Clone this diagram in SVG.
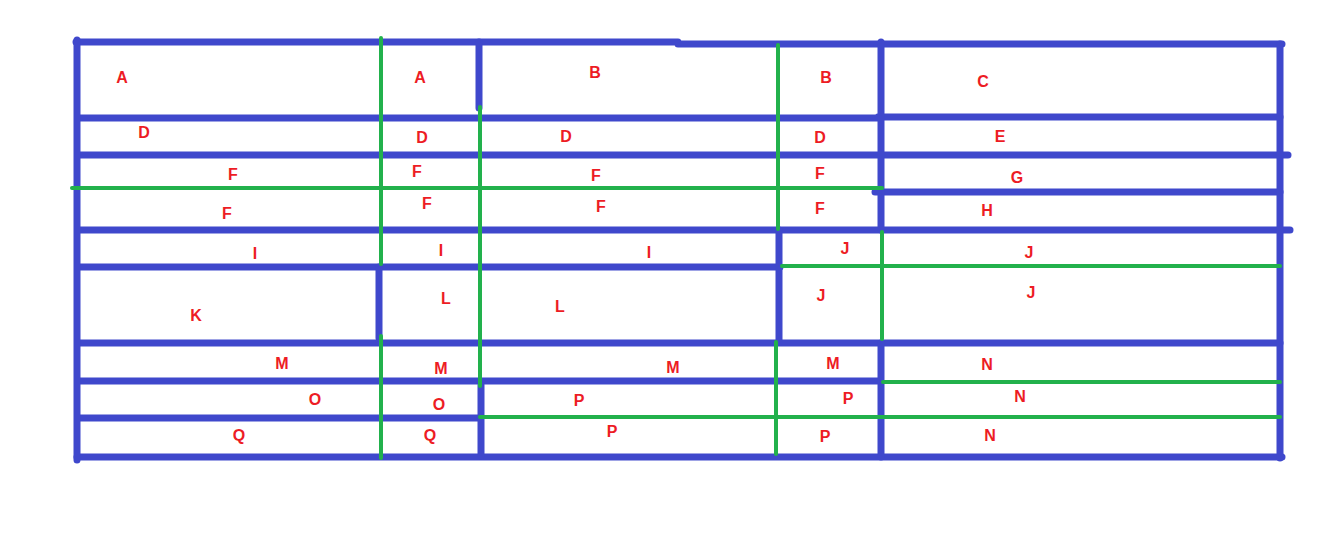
<svg xmlns="http://www.w3.org/2000/svg" width="1338" height="534" viewBox="0 0 1338 534">
<style>
.b{stroke:#3f48cc;stroke-width:7;stroke-linecap:round;fill:none}
.g{stroke:#22b14c;stroke-width:4;stroke-linecap:round;fill:none}
text{font-family:"Liberation Sans",Arial,sans-serif;font-weight:bold;font-size:16px;fill:#ed1c24;text-anchor:middle}
</style>
<rect width="1338" height="534" fill="#fff"/>
<g id="blue-lines">
<path class="b" d="M76 42H678M678 44H1282"/>
<path class="b" d="M78 118H878M878 117H1280"/>
<path class="b" d="M78 155H1288"/>
<path class="b" d="M875 192H1280"/>
<path class="b" d="M78 230H1290"/>
<path class="b" d="M78 267H780"/>
<path class="b" d="M78 343H1280"/>
<path class="b" d="M80 381H880"/>
<path class="b" d="M78 418H480"/>
<path class="b" d="M77 457H1282"/>
<path class="b" d="M77 40V460"/>
<path class="b" d="M1280 44V458"/>
<path class="b" d="M379 267V338"/>
<path class="b" d="M479 42V108"/>
<path class="b" d="M481 385V456"/>
<path class="b" d="M779 230V342"/>
<path class="b" d="M881 42V230"/>
<path class="b" d="M881 343V457"/>
</g>
<g id="green-lines">
<path class="g" d="M72 188H882"/>
<path class="g" d="M782 266H1280"/>
<path class="g" d="M883 382H1280"/>
<path class="g" d="M480 417H1280"/>
<path class="g" d="M381 38V264"/>
<path class="g" d="M381 336V458"/>
<path class="g" d="M480 107V386"/>
<path class="g" d="M778 45V229"/>
<path class="g" d="M776 342V454"/>
<path class="g" d="M882 232V339"/>
</g>
<g id="labels">
<text x="122" y="83">A</text><text x="420" y="83">A</text><text x="595" y="78">B</text><text x="826" y="83">B</text><text x="983" y="87">C</text>
<text x="144" y="138">D</text><text x="422" y="143">D</text><text x="566" y="142">D</text><text x="820" y="143">D</text><text x="1000" y="142">E</text>
<text x="233" y="180">F</text><text x="417" y="177">F</text><text x="596" y="181">F</text><text x="820" y="179">F</text><text x="1017" y="183">G</text>
<text x="227" y="219">F</text><text x="427" y="209">F</text><text x="601" y="212">F</text><text x="820" y="214">F</text><text x="987" y="216">H</text>
<text x="255" y="259">I</text><text x="441" y="256">I</text><text x="649" y="258">I</text><text x="845" y="254">J</text><text x="1029" y="258">J</text>
<text x="196" y="321">K</text><text x="446" y="304">L</text><text x="560" y="312">L</text><text x="821" y="301">J</text><text x="1031" y="298">J</text>
<text x="282" y="369">M</text><text x="441" y="374">M</text><text x="673" y="373">M</text><text x="833" y="369">M</text><text x="987" y="370">N</text>
<text x="315" y="405">O</text><text x="439" y="410">O</text><text x="579" y="406">P</text><text x="848" y="404">P</text><text x="1020" y="402">N</text>
<text x="239" y="441">Q</text><text x="430" y="441">Q</text><text x="612" y="437">P</text><text x="825" y="442">P</text><text x="990" y="441">N</text>
</g>
</svg>
